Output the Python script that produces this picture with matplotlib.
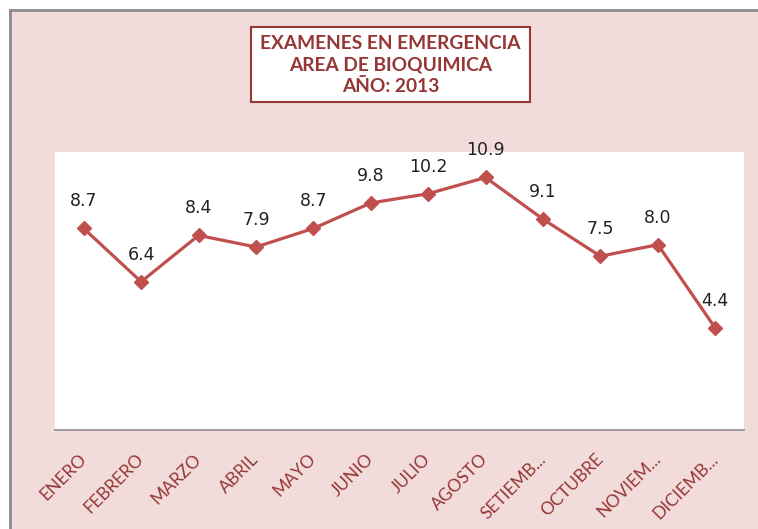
import matplotlib.pyplot as plt
from matplotlib.patches import Rectangle
from matplotlib.lines import Line2D

months = ["ENERO", "FEBRERO", "MARZO", "ABRIL", "MAYO", "JUNIO", "JULIO",
          "AGOSTO", "SETIEMB...", "OCTUBRE", "NOVIEM...", "DICIEMB..."]
values = [8.7, 6.4, 8.4, 7.9, 8.7, 9.8, 10.2, 10.9, 9.1, 7.5, 8.0, 4.4]
title_lines = ["EXAMENES EN EMERGENCIA", "AREA DE BIOQUIMICA", "AÑO: 2013"]

pink = "#F2DCDB"
red_line = "#C0504D"
dark_red = "#953735"

fig = plt.figure(figsize=(7.58, 5.29), dpi=100)
fig.patch.set_facecolor("white")

# pink chart area with gray border on top/left
fig.add_artist(Rectangle((10 / 758, 0), 748 / 758, 519 / 529, transform=fig.transFigure,
                         facecolor=pink, edgecolor="none", zorder=0))
fig.add_artist(Line2D([10 / 758, 1], [519 / 529, 519 / 529], transform=fig.transFigure,
                      color="#8c8c8c", lw=2))
fig.add_artist(Line2D([10 / 758, 10 / 758], [0, 519 / 529], transform=fig.transFigure,
                      color="#8c8c8c", lw=2))

ax = fig.add_axes([55 / 758, 99 / 529, 689 / 758, 278 / 529])
ax.set_facecolor("white")
x = list(range(len(months)))
ax.plot(x, values, color=red_line, lw=2.3, marker="D", markersize=7, zorder=3)
for xi, v in zip(x, values):
    ax.annotate(f"{v:.1f}", (xi, v), xytext=(0, 19.5), textcoords="offset points",
                ha="center", va="center", fontsize=12.5, color="#222222")

ax.set_xlim(-0.5, len(months) - 0.5)
ax.set_ylim(0, 12)
ax.set_yticks([])
ax.set_xticks(x)
ax.set_xticklabels(months, rotation=45, ha="right", va="center",
                   rotation_mode="anchor", fontsize=12.5, color=dark_red, family="Lato")
ax.tick_params(axis="x", length=0, pad=19)
for s in ["top", "left", "right"]:
    ax.spines[s].set_visible(False)
ax.spines["bottom"].set_color("#8c8c8c")
ax.spines["bottom"].set_linewidth(1.2)

# title box
fig.add_artist(Rectangle((251 / 758, 1 - 102 / 529), 279 / 758, 75 / 529,
                         transform=fig.transFigure, facecolor="white",
                         edgecolor=dark_red, lw=1.5, zorder=2))
fig.text(390.5 / 758, 1 - 65 / 529, "\n".join(title_lines), ha="center", va="center",
         fontsize=13.8, fontweight="bold", color=dark_red, family="Lato",
         linespacing=1.3, zorder=3)

fig.savefig("out.png", dpi=100, facecolor=fig.get_facecolor())
